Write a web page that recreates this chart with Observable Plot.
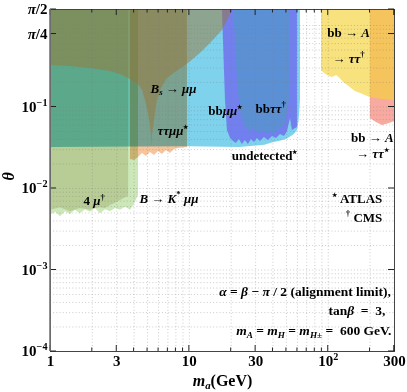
<!DOCTYPE html>
<html><head><meta charset="utf-8">
<script src="https://cdn.jsdelivr.net/npm/d3@7"></script>
<script src="https://cdn.jsdelivr.net/npm/@observablehq/plot@0.6"></script>
<style>html,body{margin:0;padding:0;background:#fff;overflow:hidden}</style>
</head><body><div id="chart"></div>
<script>
const TOP = Math.PI / 2;

// axis ticks
const xTicks = [1, 3, 10, 30, 100, 300];
const xTickLabels = ["1", "3", "10", "30", "10^{2}", "300"];
const yTicks = [1e-4, 1e-3, 1e-2, 1e-1, Math.PI / 4, Math.PI / 2];
const yTickLabels = ["10^{−4}", "10^{−3}", "10^{−2}", "10^{−1}", "/{π}/4", "/{π}/2"];

// excluded regions: [m_a (GeV), lower θ] ; upper edge is θ = π/2
const undetected = [[1,0.0318],[4.3,0.0322],[10,0.0325],[23,0.0318],[35,0.034],[40,0.0365],[45,0.038],[50,0.040],[54,0.043],[57,0.046],[60,0.0515],[61.5,0.065],[62.3,0.085],[63.1,0.12]];
const bkstar = [[1,0.0047],[1.09,0.0051],[1.18,0.0045],[1.28,0.0052],[1.39,0.0048],[1.51,0.0054],[1.64,0.0049],[1.79,0.0055],[1.94,0.0051],[2.11,0.0057],[2.29,0.0049],[2.49,0.0055],[2.70,0.0052],[2.94,0.0057],[3.19,0.0054],[3.47,0.0059],[3.77,0.0054],[4.03,0.0064],[4.30,0.0082]];
const fourmu = [[1,0.0054],[1.18,0.0058],[1.39,0.0052],[1.64,0.0057],[1.94,0.0054],[2.29,0.0058],[2.49,0.0057],[2.70,0.0062],[2.94,0.0066],[3.19,0.0071],[3.47,0.0077],[3.65,0.0080]];
const tautaumumu = [[3.77,0.0227],[4.03,0.0221],[4.30,0.024],[4.60,0.0269],[4.91,0.0247],[5.25,0.0277],[5.61,0.0254],[5.99,0.0284],[6.40,0.0261],[6.84,0.0293],[7.31,0.0269],[7.81,0.0301],[8.35,0.031],[9.69,0.0318]];
const bsmumu = [[1,0.323],[1.39,0.314],[1.94,0.297],[2.70,0.273],[3.19,0.250],[3.65,0.224],[4.09,0.196],[4.30,0.189],[4.60,0.159],[4.83,0.12],[5.08,0.083],[5.25,0.0593],[5.33,0.0447],[5.37,0.032],[5.42,0.0447],[5.51,0.0545],[5.70,0.085],[5.89,0.12],[6.30,0.169],[6.95,0.224],[7.94,0.265],[9.85,0.342],[12.0,0.453],[14.2,0.602],[17.3,0.869],[19.1,1.19],[20.4,1.53],[20.8,TOP]];
const bbmumu = [[17.3,TOP],[17.6,0.655],[18.2,0.12],[18.8,0.0515],[19.8,0.0411],[20.8,0.0377],[21.8,0.0357],[22.9,0.0399],[24.1,0.0347],[25.3,0.0388],[26.6,0.0347],[28.0,0.0399],[29.4,0.0367],[30.9,0.0411],[32.5,0.0377],[34.7,0.0422],[37.1,0.0388],[39.7,0.0434],[42.4,0.0411],[45.3,0.046],[48.4,0.0434],[50.9,0.050],[53.5,0.072],[55.2,0.0515],[58.1,0.0545],[60.0,0.056]];
const bbtautau = [[20.8,TOP],[21.5,0.655],[22.2,0.211],[23.3,0.0906],[24.5,0.0645],[25.8,0.0545],[27.5,0.050],[29.4,0.0545],[31.4,0.0473],[33.6,0.0515],[35.9,0.046],[38.4,0.050],[41.0,0.046],[43.8,0.053],[46.8,0.056],[49.2,0.0645],[50.9,0.085],[52.6,0.12]];
const bbAtautauCMS = [[89.4,0.28],[94,0.258],[98.7,0.244],[107,0.23],[115,0.244],[122,0.224],[129,0.20],[135,0.189],[144,0.173],[157,0.155],[171,0.146],[185,0.138],[201,0.131],[238,0.124],[300,0.12]];
const bbAtautauATLAS = [[201,0.0722],[222,0.0645],[246,0.0593],[272,0.0625],[300,0.066]];

// labels
const labels = [
  {x: 5.25, y: 0.169, text: "/{B}_/{s} → /{μμ}", anchor: "start"},
  {x: 5.89, y: 0.0515, text: "/{ττμμ}^{★}", anchor: "start"},
  {x: 13.7, y: 0.0906, text: "bb/{μμ}^{★}", anchor: "start"},
  {x: 29.9, y: 0.096, text: "bb/{ττ}^{†}", anchor: "start"},
  {x: 60, y: 0.0254, text: "undetected^{★}", anchor: "end"},
  {x: 140, y: 0.82, text: "bb → /{A}", anchor: "middle"},
  {x: 140, y: 0.394, text: "→ /{ττ}^{†}", anchor: "middle"},
  {x: 208, y: 0.0422, text: "bb → /{A}", anchor: "middle"},
  {x: 208, y: 0.0269, text: "→ /{ττ}^{★}", anchor: "middle"},
  {x: 245, y: 0.00754, text: "^{★} ATLAS", anchor: "end"},
  {x: 245, y: 0.00441, text: "^{†} CMS", anchor: "end"},
  {x: 1.73, y: 0.0071, text: "4 /{μ}^{†}", anchor: "start"},
  {x: 4.37, y: 0.00754, text: "/{B} → /{K}^{*} /{μμ}", anchor: "start"}
];
const notes = [
  {x: 283, y: 0.000544, text: "/{α} = /{β} − /{π} / 2 (alignment limit),"},
  {x: 258, y: 0.000318, text: "tan/{β}  =  3,"},
  {x: 285, y: 0.000181, text: "/{m}_/{A} = /{m}_/{H} = /{m}_/{H±} =  600 GeV."}
];

const rows = arr => arr.map(([x, lo]) => ({x, lo, hi: TOP}));
const region = (arr, opts) => Plot.areaY(rows(arr), {x: "x", y1: "lo", y2: "hi", curve: "linear", ...opts});

const xGrid = [], yGrid = [];
for (const d of [1, 10, 100]) for (let k = 1; k <= 9; k++) if (k * d <= 300) xGrid.push(k * d);
for (const d of [1e-4, 1e-3, 1e-2, 1e-1]) for (let k = 1; k <= 9; k++) yGrid.push(+(k * d).toPrecision(3));
yGrid.push(1);

const chart = Plot.plot({
  width: 407, height: 392,
  marginLeft: 50, marginRight: 13, marginTop: 9, marginBottom: 41,
  x: {type: "log", domain: [1, 300], axis: null},
  y: {type: "log", domain: [1e-4, TOP], axis: null},
  style: {fontFamily: "'Liberation Serif', 'Times New Roman', serif", fontWeight: "bold", background: "white", color: "black"},
  marks: [
    region(undetected, {fill: "#7ed2ec"}),
    region(bkstar, {fill: "#b6dd9a", fillOpacity: 0.7, mixBlendMode: "multiply"}),
    region(fourmu, {fill: "#e6e2d0", mixBlendMode: "multiply"}),
    region(tautaumumu, {fill: "#f4a060", fillOpacity: 0.62, mixBlendMode: "multiply"}),
    region(bbmumu, {fill: "#6e72ee", fillOpacity: 0.85}),
    region(bbtautau, {fill: "#5595cc", fillOpacity: 0.75}),
    region(bsmumu, {fill: "#9c7534", fillOpacity: 0.5}),
    region(bbAtautauATLAS, {fill: "#f8aaa0"}),
    region(bbAtautauCMS, {fill: "#f3d337", fillOpacity: 0.65}),
    Plot.gridX(xGrid, {stroke: "#808080", strokeOpacity: 0.5, strokeWidth: 0.8, strokeDasharray: "1,2.2"}),
    Plot.gridY(yGrid, {stroke: "#808080", strokeOpacity: 0.5, strokeWidth: 0.8, strokeDasharray: "1,2.2"}),
    ...["start", "middle", "end"].map(a => Plot.text(labels.filter(d => d.anchor === a), {x: "x", y: "y", text: "text", textAnchor: a, fontSize: 13})),
    Plot.text(notes, {x: "x", y: "y", text: "text", textAnchor: "end", fontSize: 13.5}),
    Plot.text(xTicks, {x: d => d, frameAnchor: "bottom", lineAnchor: "top", dy: 4, fontSize: 15, text: (d, i) => xTickLabels[i]}),
    Plot.text(yTicks, {y: d => d, frameAnchor: "left", textAnchor: "end", dx: -3, fontSize: 15, text: (d, i) => yTickLabels[i]}),
    Plot.text(["/{m}_/{a}(GeV)"], {frameAnchor: "bottom", dy: 34, fontSize: 16, text: d => d}),
    Plot.text(["/{θ}"], {frameAnchor: "left", dx: -42, rotate: -90, fontSize: 16, text: d => d}),
    Plot.frame({stroke: "#444", strokeWidth: 1})
  ]
});
document.getElementById("chart").append(chart);

// inward ticks
const sx = chart.scale("x"), sy = chart.scale("y");
const L = sx.apply(1), R = sx.apply(300), B = sy.apply(1e-4), T = sy.apply(TOP);
const g = d3.select(chart).append("g").attr("stroke", "#222").attr("stroke-width", 1);
for (const v of xGrid.concat([300])) {
  const px = sx.apply(v), len = xTicks.includes(v) ? 6 : 3.5;
  g.append("line").attr("x1", px).attr("x2", px).attr("y1", B).attr("y2", B - len);
  g.append("line").attr("x1", px).attr("x2", px).attr("y1", T).attr("y2", T + len);
}
for (const v of yTicks) {
  const py = sy.apply(v);
  g.append("line").attr("x1", L).attr("x2", L + 6).attr("y1", py).attr("y2", py);
  g.append("line").attr("x1", R).attr("x2", R - 6).attr("y1", py).attr("y2", py);
}
d3.select(chart).append("line").attr("x1", L).attr("x2", L).attr("y1", T).attr("y2", B).attr("stroke", "#777").attr("stroke-width", 1.6);

// rich text: ^{sup} _{sub} /{italic}
function rich(el) {
  const s = el.textContent;
  if (!/(\^|_|\/)\{/.test(s)) return;
  const fs = parseFloat(getComputedStyle(el).fontSize) || 12;
  el.textContent = "";
  const re = /(\^\/|_\/|\^|_|\/)\{([^}]*)\}/g;
  let last = 0, shift = 0, m;
  const add = (txt, kind) => {
    if (!txt) return;
    const t = document.createElementNS("http://www.w3.org/2000/svg", "tspan");
    let target = 0;
    if (kind.includes("^")) target = -0.4 * fs;
    else if (kind.includes("_")) target = 0.22 * fs;
    if (kind.includes("^") || kind.includes("_")) t.setAttribute("font-size", ((txt === "★" ? 0.42 : 0.68) * fs).toFixed(1));
    if (kind.includes("/")) t.setAttribute("font-style", "italic");
    if (target !== shift) t.setAttribute("dy", (target - shift).toFixed(2));
    shift = target;
    t.textContent = txt;
    el.appendChild(t);
  };
  while ((m = re.exec(s))) { add(s.slice(last, m.index), ""); add(m[2], m[1]); last = re.lastIndex; }
  add(s.slice(last), "");
}
chart.querySelectorAll("text").forEach(rich);
</script></body></html>
